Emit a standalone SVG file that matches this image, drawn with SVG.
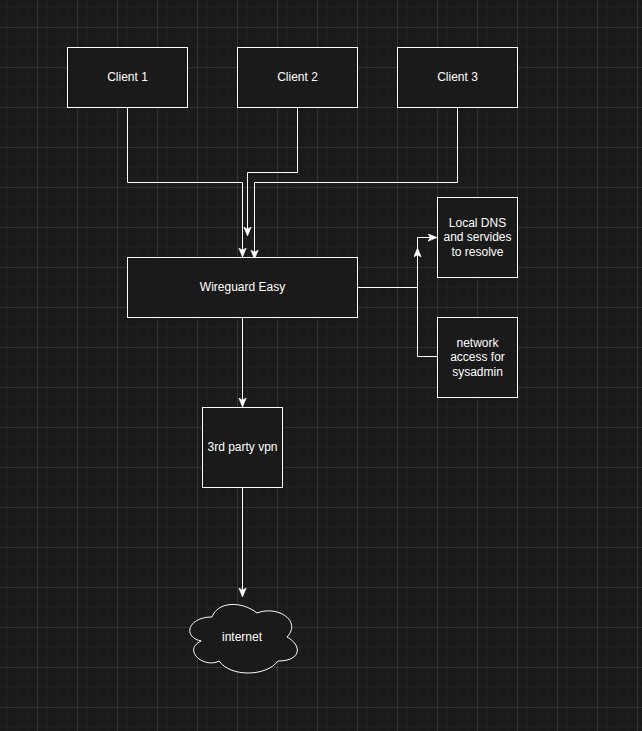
<svg xmlns="http://www.w3.org/2000/svg" width="642" height="731" viewBox="0 0 642 731">
<defs>
<pattern id="minor" x="7" y="7" width="10" height="10" patternUnits="userSpaceOnUse">
<path d="M0.5,0 V10 M0,0.5 H10" stroke="#1f1f1f" stroke-width="1" fill="none"/>
</pattern>
<pattern id="major" x="37" y="27" width="40" height="40" patternUnits="userSpaceOnUse">
<path d="M0.5,0 V40 M0,0.5 H40" stroke="#333333" stroke-width="1" fill="none"/>
</pattern>
<marker id="arr" markerUnits="userSpaceOnUse" markerWidth="10" markerHeight="9" refX="9" refY="4" orient="auto" viewBox="0 0 10 9">
<path d="M0,0.3 L9,4 L0,7.7 L2.3,4 Z" fill="#ffffff" stroke="#ffffff" stroke-width="0.6"/>
</marker>
<style>
.box{fill:#1a1a1a;stroke:#ffffff;stroke-width:1}
.t{font-family:"Liberation Sans",Arial,Helvetica,sans-serif;font-size:12px;fill:#ffffff;text-anchor:middle}
.e{fill:none;stroke:#ffffff;stroke-width:1;marker-end:url(#arr)}
</style>
</defs>
<rect x="0" y="0" width="642" height="731" fill="#1a1a1a"/>
<rect x="0" y="0" width="642" height="731" fill="url(#minor)"/>
<rect x="0" y="0" width="642" height="731" fill="url(#major)"/>

<g id="connectors">
<path class="e" d="M127.5,107.5 V182.5 H242.5 V257"/>
<path class="e" d="M297.5,107.5 V172.5 H247.5 V236"/>
<path class="e" d="M457.5,107.5 V182.5 H254.5 V259"/>
<path class="e" d="M357.5,287.5 H417.5 V237.5 H437"/>
<path class="e" d="M437.5,356.5 H417.5 V248"/>
<path class="e" d="M242.5,317.5 V407"/>
<path class="e" d="M242.5,487.5 V597"/>
</g>

<g id="client1">
<rect class="box" x="67.5" y="47.5" width="120" height="60"/>
<text class="t" x="127.5" y="81">Client 1</text>
</g>
<g id="client2">
<rect class="box" x="237.5" y="47.5" width="120" height="60"/>
<text class="t" x="297.5" y="81">Client 2</text>
</g>
<g id="client3">
<rect class="box" x="397.5" y="47.5" width="120" height="60"/>
<text class="t" x="457.5" y="81">Client 3</text>
</g>
<g id="wireguard">
<rect class="box" x="127.5" y="257.5" width="230" height="60"/>
<text class="t" x="242.5" y="291">Wireguard Easy</text>
</g>
<g id="localdns">
<rect class="box" x="437.5" y="197.5" width="80" height="80"/>
<text class="t" x="477.5" y="226.5">Local DNS</text>
<text class="t" x="477.5" y="241">and servides</text>
<text class="t" x="477.5" y="255.5">to resolve</text>
</g>
<g id="netaccess">
<rect class="box" x="437.5" y="317.5" width="80" height="80"/>
<text class="t" x="477.5" y="346.5">network</text>
<text class="t" x="477.5" y="361">access for</text>
<text class="t" x="477.5" y="375.5">sysadmin</text>
</g>
<g id="vpn">
<rect class="box" x="202.5" y="407.5" width="80" height="80"/>
<text class="t" x="242.5" y="451">3rd party vpn</text>
</g>
<g id="internet">
<path class="box" d="M212,617 C188,617 182,637 201.2,641 C182,649.8 203.6,669 219.2,661 C230,677 266,677 278,661 C302,661 302,645 287,637 C302,621 278,605 257,613 C242,601 218,601 212,617 Z"/>
<text class="t" x="242" y="641">internet</text>
</g>
</svg>
